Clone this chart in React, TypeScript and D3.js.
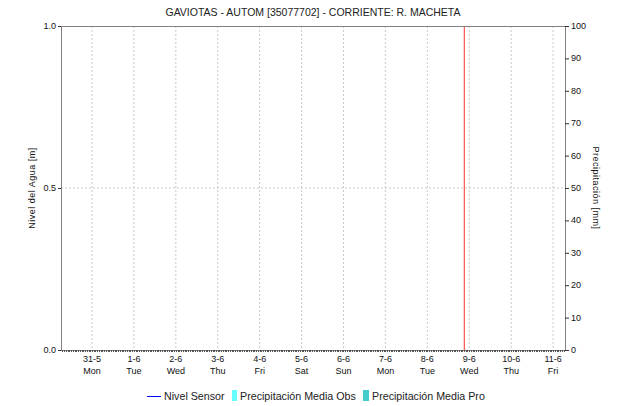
import React from "react";
import * as d3 from "d3";

const TITLE = "GAVIOTAS - AUTOM [35077702] - CORRIENTE: R. MACHETA";
const dayTicks = [
  new Date(2021, 4, 31), new Date(2021, 5, 1), new Date(2021, 5, 2), new Date(2021, 5, 3),
  new Date(2021, 5, 4), new Date(2021, 5, 5), new Date(2021, 5, 6), new Date(2021, 5, 7),
  new Date(2021, 5, 8), new Date(2021, 5, 9), new Date(2021, 5, 10), new Date(2021, 5, 11),
];
const dayNames = ["Sun", "Mon", "Tue", "Wed", "Thu", "Fri", "Sat"];
const timeDomain = [new Date(2021, 4, 30, 6, 15), new Date(2021, 5, 11, 6, 50)];
const levelTicks = [0, 0.5, 1.0];
const precipTicks = [0, 10, 20, 30, 40, 50, 60, 70, 80, 90, 100];
const nowMarker = new Date(2021, 5, 8, 21, 10);
// series (no data reported in the reference)
const nivelSensor: { t: Date; v: number }[] = [];
const precipObs: { t: Date; v: number }[] = [];
const precipPro: { t: Date; v: number }[] = [];

const W = 623, H = 406;
const M = { left: 61, right: 565, top: 26, bottom: 350 };
const FONT = "'Liberation Sans', Arial, sans-serif";
const AX = "#808080";

export default function App() {
  const x = d3.scaleTime().domain(timeDomain).range([M.left, M.right]);
  const yL = d3.scaleLinear().domain([0, 1]).range([M.bottom, M.top]);
  const yR = d3.scaleLinear().domain([0, 100]).range([M.bottom, M.top]);
  const hours = d3.timeHour.range(timeDomain[0], timeDomain[1]);
  const line = d3.line<{ t: Date; v: number }>().x(d => x(d.t)).y(d => yL(d.v));
  const bw = 6;
  return (
    <svg width={W} height={H} style={{ position: "absolute", left: 0, top: 0, background: "#fff" }} fontFamily={FONT}>
      <rect x={0} y={0} width={W} height={H} fill="#fff" />
      <text x={(M.left + M.right) / 2} y={16} textAnchor="middle" fontSize={10.5} fill="#222">{TITLE}</text>
      {/* vertical grid */}
      {dayTicks.map((d, i) => (
        <line key={i} x1={x(d)} x2={x(d)} y1={M.top} y2={M.bottom} stroke="#c8c8c8" strokeDasharray="2,2" />
      ))}
      {/* horizontal grid at 0.5 */}
      <line x1={M.left} x2={M.right} y1={yL(0.5)} y2={yL(0.5)} stroke="#c8c8c8" strokeDasharray="2,2" />
      {/* precipitation bars */}
      {precipObs.map((d, i) => (
        <rect key={"o" + i} x={x(d.t) - bw} y={yR(d.v)} width={bw} height={M.bottom - yR(d.v)} fill="#66ffff" />
      ))}
      {precipPro.map((d, i) => (
        <rect key={"p" + i} x={x(d.t)} y={yR(d.v)} width={bw} height={M.bottom - yR(d.v)} fill="#44cccc" />
      ))}
      {nivelSensor.length > 0 && <path d={line(nivelSensor) || ""} fill="none" stroke="#0000ff" />}
      {/* now marker */}
      <line x1={x(nowMarker)} x2={x(nowMarker)} y1={M.top} y2={M.bottom} stroke="#ff3030" strokeWidth={1} />
      {/* frame */}
      <line x1={M.left} x2={M.right} y1={M.top + 0.5} y2={M.top + 0.5} stroke={AX} />
      <line x1={M.left + 0.5} x2={M.left + 0.5} y1={M.top} y2={M.bottom} stroke={AX} />
      <line x1={M.right + 0.5} x2={M.right + 0.5} y1={M.top} y2={M.bottom} stroke={AX} />
      <line x1={M.left} x2={M.right} y1={M.bottom + 0.5} y2={M.bottom + 0.5} stroke={AX} />
      {/* minor hourly ticks */}
      {hours.map((h, i) => (
        <line key={i} x1={Math.round(x(h)) + 0.5} x2={Math.round(x(h)) + 0.5} y1={M.bottom} y2={M.bottom + 2} stroke="#555" />
      ))}
      {/* x labels */}
      {dayTicks.map((d, i) => (
        <g key={i} fontSize={9} fill="#111" textAnchor="middle">
          <text x={x(d)} y={362}>{`${d.getDate()}-${d.getMonth() + 1}`}</text>
          <text x={x(d)} y={374}>{dayNames[d.getDay()]}</text>
        </g>
      ))}
      {/* left axis */}
      {levelTicks.map((v, i) => (
        <g key={i}>
          <line x1={M.left - 3} x2={M.left} y1={yL(v) + 0.5} y2={yL(v) + 0.5} stroke="#333" />
          <text x={M.left - 5} y={yL(v) + 3} fontSize={9} textAnchor="end" fill="#111">{v.toFixed(1)}</text>
        </g>
      ))}
      {/* right axis */}
      {precipTicks.map((v, i) => (
        <g key={i}>
          <line x1={M.right} x2={M.right + 4} y1={yR(v) + 0.5} y2={yR(v) + 0.5} stroke="#333" />
          <text x={M.right + 6} y={yR(v) + 3} fontSize={9} textAnchor="start" fill="#111">{v}</text>
        </g>
      ))}
      <text transform={`translate(35,${(M.top + M.bottom) / 2}) rotate(-90)`} textAnchor="middle" fontSize={9} fill="#111" letterSpacing={0.5}>Nivel del Agua [m]</text>
      <text transform={`translate(593,${(M.top + M.bottom) / 2}) rotate(90)`} textAnchor="middle" fontSize={9} fill="#111" letterSpacing={0.5}>Precipitación [mm]</text>
      {/* legend */}
      <g fontSize={10.7} fill="#222">
        <line x1={147} x2={161} y1={396.5} y2={396.5} stroke="#0000ff" />
        <text x={164} y={400}>Nivel Sensor</text>
        <rect x={232} y={390} width={5} height={11} fill="#66ffff" />
        <text x={240} y={400}>Precipitación Media Obs</text>
        <rect x={363} y={390} width={6} height={11} fill="#44cccc" />
        <text x={372} y={400}>Precipitación Media Pro</text>
      </g>
    </svg>
  );
}
